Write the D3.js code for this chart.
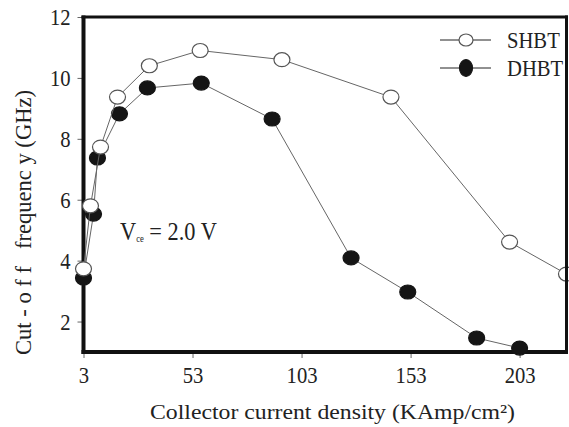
<!DOCTYPE html>
<html>
<head>
<meta charset="utf-8">
<script src="https://cdn.jsdelivr.net/npm/d3@7"></script>
<style>
  body { margin: 0; background: #fff; }
  svg { display: block; }
  svg text { font-family: "Liberation Serif", "Times New Roman", serif; }
</style>
</head>
<body>
<div class="chart"></div>
<script>
const xTicks = [3, 53, 103, 153, 203];
const yTicks = [2, 4, 6, 8, 10, 12];
const seriesNames = ["SHBT", "DHBT"];

const shbtX = [3, 6.2, 10.8, 18.6, 33.2, 56.5, 94, 144, 198.4, 224.5];
const shbtY = [3.73, 5.8, 7.73, 9.37, 10.4, 10.9, 10.6, 9.37, 4.61, 3.56];
const dhbtX = [3, 7.6, 9.4, 19.5, 32.3, 57, 89.5, 125.7, 151.7, 183.3, 203];
const dhbtY = [3.43, 5.53, 7.37, 8.82, 9.67, 9.83, 8.65, 4.09, 2.97, 1.46, 1.13];

const W = 569, H = 427;
const textColor = "#222";
const lineColor = "#666";
const squeeze = 0.86;

const x = d3.scaleLinear().domain([3, 224.5]).range([83.5, 566.5]);
const y = d3.scaleLinear().domain([1, 12]).range([352, 17]);

const svg = d3.select(".chart")
    .append("svg")
    .attr("width", W)
    .attr("height", H);

// axes (ticks only, lines drawn by hand)
const yAxis = svg.append("g")
    .attr("transform", `translate(${x.range()[0]},0)`)
    .call(d3.axisLeft(y).tickValues(yTicks).tickSize(6).tickPadding(9));
const xAxis = svg.append("g")
    .attr("transform", `translate(0,${y.range()[0]})`)
    .call(d3.axisBottom(x).tickValues(xTicks).tickSize(6).tickPadding(8));

[yAxis, xAxis].forEach(g => {
    g.select(".domain").remove();
    g.selectAll(".tick line").attr("stroke", lineColor).attr("stroke-width", 1);
    g.selectAll(".tick text")
        .attr("fill", textColor)
        .style("font-size", "24px")
        .attr("transform", `scale(${squeeze},1)`);
});

// left and bottom axis lines
svg.append("line")
    .attr("x1", x.range()[0]).attr("x2", x.range()[0])
    .attr("y1", y.range()[1] - 1.5).attr("y2", y.range()[0] + 2)
    .attr("stroke", "#111").attr("stroke-width", 4);
svg.append("line")
    .attr("x1", x.range()[0] - 2).attr("x2", x.range()[1] + 1.5)
    .attr("y1", y.range()[0]).attr("y2", y.range()[0])
    .attr("stroke", "#111").attr("stroke-width", 4);

const line = d3.line().x(d => x(d[0])).y(d => y(d[1]));

function drawSeries(xs, ys, filled) {
    const pts = xs.map((v, i) => [v, ys[i]]);
    const g = svg.append("g");
    g.append("path")
        .datum(pts)
        .attr("d", line)
        .attr("fill", "none")
        .attr("stroke", lineColor)
        .attr("stroke-width", 1);
    g.selectAll("ellipse")
        .data(pts)
        .enter()
        .append("ellipse")
        .attr("cx", d => x(d[0]))
        .attr("cy", d => y(d[1]))
        .attr("rx", 8)
        .attr("ry", 7)
        .attr("fill", filled ? "#151515" : "#fff")
        .attr("stroke", filled ? "#151515" : "#555")
        .attr("stroke-width", 1.2);
}

drawSeries(dhbtX, dhbtY, true);
drawSeries(shbtX, shbtY, false);

// top and right frame lines
svg.append("line")
    .attr("x1", x.range()[0] - 2).attr("x2", x.range()[1] + 1.5)
    .attr("y1", y.range()[1]).attr("y2", y.range()[1])
    .attr("stroke", "#111").attr("stroke-width", 3);
svg.append("line")
    .attr("x1", x.range()[1]).attr("x2", x.range()[1])
    .attr("y1", y.range()[1] - 1.5).attr("y2", y.range()[0] + 2)
    .attr("stroke", "#111").attr("stroke-width", 3);

// legend
const legend = svg.append("g");
seriesNames.forEach((name, i) => {
    const ly = 40 + i * 28;
    legend.append("line")
        .attr("x1", 440).attr("x2", 491)
        .attr("y1", ly).attr("y2", ly)
        .attr("stroke", "#222").attr("stroke-width", 1);
    legend.append("ellipse")
        .attr("cx", 466).attr("cy", ly)
        .attr("rx", i === 0 ? 7 : 6.5)
        .attr("ry", i === 0 ? 6 : 8.5)
        .attr("fill", i === 0 ? "#fff" : "#151515")
        .attr("stroke", i === 0 ? "#555" : "#151515")
        .attr("stroke-width", 1.2);
    legend.append("text")
        .attr("transform", `translate(507,${ly + 8}) scale(${squeeze},1)`)
        .attr("fill", textColor)
        .style("font-size", "24px")
        .text(name);
});

// annotation
const note = svg.append("text")
    .attr("transform", `translate(120,240) scale(${squeeze},1)`)
    .attr("fill", textColor)
    .style("font-size", "26px");
note.append("tspan").text("V");
note.append("tspan").attr("dy", 2).style("font-size", "10px").text("ce");
note.append("tspan").attr("dy", -2).text(" = 2.0 V");

// axis titles
svg.append("text")
    .attr("x", 150).attr("y", 419)
    .attr("fill", textColor)
    .style("font-size", "22px")
    .attr("textLength", 365)
    .attr("lengthAdjust", "spacingAndGlyphs")
    .text("Collector current density (KAmp/cm²)");

svg.append("text")
    .attr("transform", "translate(31,355) rotate(-90)")
    .attr("fill", textColor)
    .style("font-size", "23px")
    .style("white-space", "pre")
    .attr("textLength", 265)
    .attr("lengthAdjust", "spacingAndGlyphs")
    .text("Cut - o f f   frequenc y (GHz)");
</script>
</body>
</html>
